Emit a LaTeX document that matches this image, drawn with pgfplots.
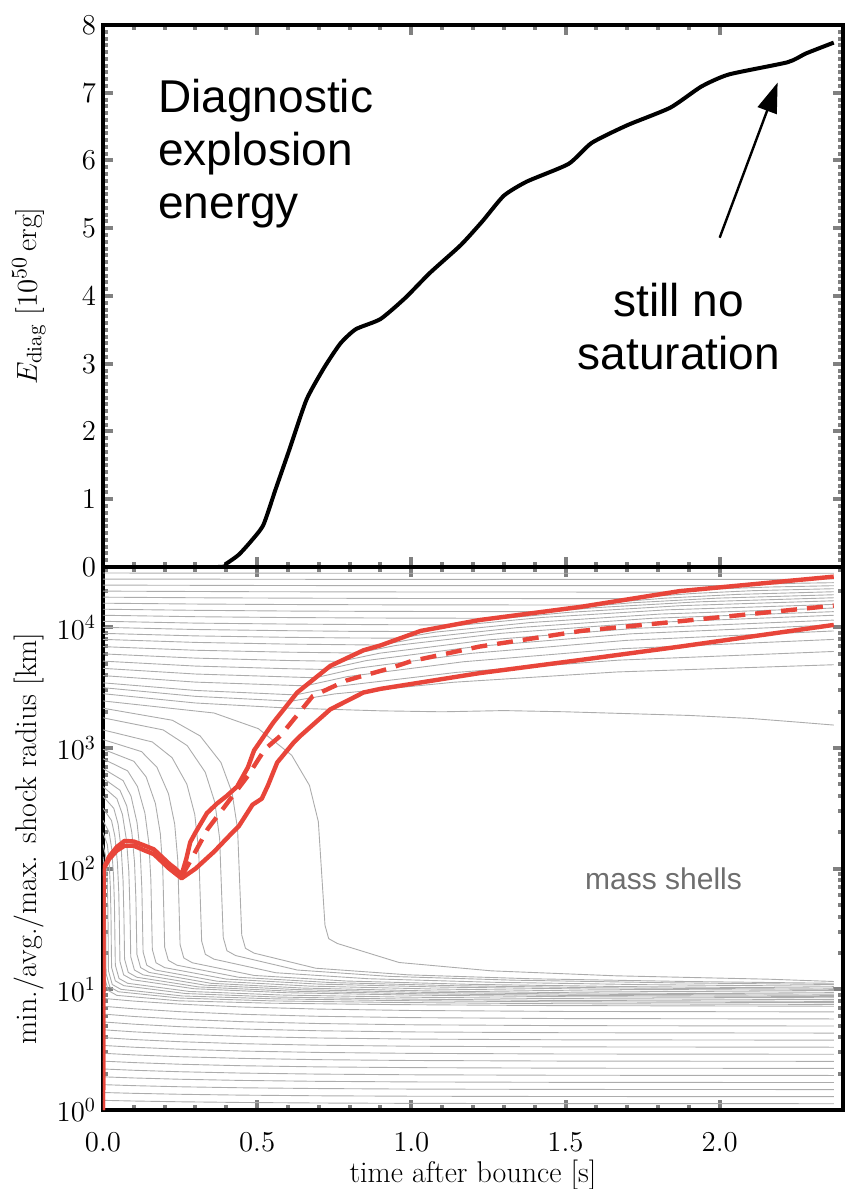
\documentclass[border=0pt]{standalone}
\usepackage{fontspec}
\usepackage{pgfplots}
\usepackage{pgfplotstable}
\pgfplotsset{compat=1.18}
\usetikzlibrary{arrows.meta}
\newfontfamily\arial{Liberation Sans}
\definecolor{shockred}{HTML}{E8453A}
\definecolor{shellgray}{RGB}{172,172,172}
\definecolor{textgray}{RGB}{110,110,110}

\pgfplotstableread{
t c1 c2 c3 c4 c5 c6 c7 c8 c9 c10 c11 c12 c13 c14
0    .080  .145  .210  .275  .340  .405  .470  .535  .600  .665  .730  .795  .860  .925
0.1  .0744 .1381 .2018 .2655 .3292 .3929 .4566 .5203 .584  .6477 .7114 .7751 .8388 .9025
0.25 .0681 .1303 .1925 .2548 .3170 .3792 .4415 .5037 .5659 .6282 .6904 .7526 .8148 .8771
0.45 .0623 .1232 .1841 .2450 .3059 .3668 .4277 .4885 .5494 .6103 .6712 .7321 .7930 .8539
0.7  .0579 .1178 .1777 .2375 .2974 .3573 .4171 .4770 .5369 .5968 .6566 .7165 .7764 .8362
1.0  .0550 .1142 .1734 .2326 .2918 .3510 .4102 .4694 .5286 .5878 .6470 .7062 .7654 .8247
1.5  .0530 .1117 .1705 .2292 .2879 .3467 .4054 .4641 .5229 .5816 .6403 .6991 .7578 .8166
2.37 .0521 .1107 .1692 .2277 .2863 .3448 .4033 .4619 .5204 .5789 .6375 .6960 .7545 .8131
}\lowshells

\pgfplotsset{
  myframe/.style={
    scale only axis, width=370pt, xmin=0, xmax=2.4,
    xtick={0,0.5,1,1.5,2}, minor x tick num=4,
    major tick length=5pt, minor tick length=2.6pt,
    xtick style={line width=2pt},
    ytick style={line width=2pt},
    axis line style={line width=2.2pt},
    tick label style={font=\fontsize{14.5}{16}\selectfont},
    label style={font=\fontsize{15}{17}\selectfont},
    scaled ticks=false,
  },
  shell/.style={shellgray, line width=0.45pt},
  shock/.style={shockred, line width=2.2pt, line join=round},
}

\begin{document}
\begin{tikzpicture}
\useasboundingbox (-51.5pt,-39.5pt) rectangle (372.5pt,555pt);

% ---------------- top panel ----------------
\begin{axis}[myframe, at={(0,271.5pt)}, anchor=south west, height=271pt,
  ymin=0, ymax=8, ytick={0,1,...,8}, minor y tick num=9,
  xticklabels={},
  ylabel={$E_{\mathrm{diag}}\ [10^{50}\,\mathrm{erg}]$},
  ylabel style={at={(axis description cs:-0.1,0.5)}, anchor=center},
]
\addplot[black, line width=2pt, smooth, tension=0.35] coordinates {
(0,0)(0.375,0)(0.40,0.05)(0.44,0.18)(0.48,0.38)(0.52,0.62)(0.56,1.15)(0.605,1.74)
(0.66,2.47)(0.717,2.94)(0.77,3.30)(0.82,3.51)(0.90,3.66)(0.98,3.97)(1.06,4.34)
(1.16,4.75)(1.23,5.10)(1.30,5.48)(1.375,5.69)(1.51,5.95)(1.585,6.26)(1.70,6.52)
(1.84,6.78)(1.94,7.09)(2.03,7.27)(2.22,7.45)(2.28,7.58)(2.37,7.74)};
\node[anchor=north west, inner sep=0pt, align=left,
  font=\arial\fontsize{23}{26.5}\selectfont] at (axis cs:0.178,7.2)
  {Diagnostic\\explosion\\energy};
\node[inner sep=0pt, align=center,
  font=\arial\fontsize{23}{26.5}\selectfont] at (axis cs:1.868,3.55)
  {still no\\saturation};
\draw[line width=1.2pt, -{Triangle[length=15pt,width=10pt]}]
  (axis cs:2.0,4.86) -- (axis cs:2.188,7.15);
\end{axis}

% ---------------- bottom panel ----------------
\begin{axis}[myframe, at={(0,0)}, anchor=south west, height=271.5pt,
  ymin=0, ymax=4.5, ytick={0,1,2,3,4},
  yticklabels={$10^{0}$,$10^{1}$,$10^{2}$,$10^{3}$,$10^{4}$},
  minor ytick={0.301,0.477,0.602,0.699,0.778,0.845,0.903,0.954,
    1.301,1.477,1.602,1.699,1.778,1.845,1.903,1.954,
    2.301,2.477,2.602,2.699,2.778,2.845,2.903,2.954,
    3.301,3.477,3.602,3.699,3.778,3.845,3.903,3.954,
    4.301,4.477},
  xticklabel style={yshift=-8pt, /pgf/number format/.cd, fixed, fixed zerofill, precision=1},
  xlabel={time after bounce [s]},
  xlabel style={at={(axis description cs:0.5,-0.12)}, anchor=center},
  ylabel={min./avg./max. shock radius [km]},
  ylabel style={at={(axis description cs:-0.1,0.5)}, anchor=center},
]
% lower (inner) mass shells
\pgfplotsinvokeforeach{1,...,14}{
  \addplot[shell] table[x=t, y=c#1] {\lowshells};
}
% collapsing mass shells (log10 radius)
\addplot[shell] coordinates {(0,2.0)(0.0025,1.9)(0.0035,1.77)(0.00425,1.55)(0.00465,1.3)(0.005,1.10)(0.017,0.99)(0.045,0.95)(0.245,0.905)(0.545,0.885)(0.945,0.8735)(1.445,0.8655)(2.37,0.86)};
\addplot[shell] coordinates {(0,2.10)(0.005,2.0)(0.007,1.87)(0.0085,1.65)(0.0093,1.40)(0.010,1.13)(0.022,1.02)(0.05,0.98)(0.25,0.9275)(0.55,0.904)(0.95,0.891)(1.45,0.881)(2.37,0.875)};
\addplot[shell] coordinates {(0,2.20)(0.009,2.10)(0.0126,1.97)(0.0153,1.75)(0.0167,1.50)(0.0175,1.20)(0.018,1.15)(0.030,1.04)(0.058,1.00)(0.258,0.945)(0.558,0.921)(0.958,0.9065)(1.458,0.8966)(2.37,0.89)};
\addplot[shell] coordinates {(0,2.30)(0.014,2.20)(0.0196,2.07)(0.0238,1.85)(0.026,1.60)(0.0272,1.30)(0.028,1.18)(0.040,1.07)(0.068,1.03)(0.268,0.965)(0.568,0.936)(0.968,0.9195)(1.468,0.9078)(2.37,0.90)};
\addplot[shell] coordinates {(0,2.40)(0.020,2.30)(0.028,2.17)(0.034,1.95)(0.0372,1.70)(0.0388,1.40)(0.040,1.20)(0.052,1.09)(0.080,1.05)(0.280,0.9825)(0.580,0.9528)(0.980,0.9353)(1.480,0.9231)(2.37,0.915)};
\addplot[shell] coordinates {(0,2.50)(0.0275,2.40)(0.0385,2.27)(0.0468,2.05)(0.0512,1.80)(0.0534,1.50)(0.055,1.23)(0.067,1.12)(0.095,1.08)(0.295,1.005)(0.595,0.972)(0.995,0.9525)(1.495,0.939)(2.37,0.93)};
\addplot[shell] coordinates {(0,2.60)(0.035,2.50)(0.049,2.37)(0.0595,2.15)(0.0651,1.90)(0.0679,1.60)(0.070,1.25)(0.082,1.14)(0.110,1.10)(0.310,1.02)(0.610,0.9848)(1.010,0.964)(1.510,0.9496)(2.37,0.94)};
\addplot[shell] coordinates {(0,2.68)(0.045,2.58)(0.063,2.45)(0.0765,2.23)(0.0837,1.98)(0.0873,1.68)(0.090,1.27)(0.102,1.16)(0.130,1.12)(0.330,1.035)(0.630,0.9976)(1.030,0.9755)(1.530,0.9602)(2.37,0.95)};
\addplot[shell] coordinates {(0,2.75)(0.055,2.65)(0.077,2.52)(0.0935,2.30)(0.1023,2.05)(0.1067,1.75)(0.110,1.29)(0.122,1.18)(0.150,1.14)(0.350,1.05)(0.650,1.0104)(1.050,0.987)(1.550,0.9708)(2.37,0.96)};
\addplot[shell] coordinates {(0,2.83)(0.065,2.73)(0.091,2.60)(0.1105,2.38)(0.1209,2.13)(0.1261,1.83)(0.130,1.31)(0.142,1.20)(0.170,1.16)(0.370,1.0675)(0.670,1.0268)(1.070,1.0028)(1.570,0.9861)(2.37,0.975)};
\addplot[shell] coordinates {(0,2.91)(0.080,2.81)(0.112,2.68)(0.136,2.46)(0.1488,2.21)(0.1552,1.91)(0.160,1.33)(0.172,1.22)(0.200,1.18)(0.400,1.085)(0.700,1.0432)(1.100,1.0185)(1.600,1.0014)(2.37,0.99)};
\addplot[shell] coordinates {(0,2.99)(0.100,2.89)(0.140,2.76)(0.170,2.54)(0.186,2.29)(0.194,1.99)(0.200,1.35)(0.212,1.24)(0.240,1.20)(0.440,1.10)(0.740,1.056)(1.140,1.03)(1.640,1.012)(2.37,1.00)};
\addplot[shell] coordinates {(0,3.07)(0.125,2.97)(0.175,2.84)(0.2125,2.62)(0.2325,2.37)(0.2425,2.07)(0.250,1.37)(0.262,1.26)(0.290,1.22)(0.490,1.115)(0.790,1.0688)(1.190,1.0415)(1.690,1.0226)(2.37,1.01)};
\addplot[shell] coordinates {(0,3.15)(0.160,3.05)(0.224,2.92)(0.272,2.70)(0.2976,2.45)(0.3104,2.15)(0.320,1.40)(0.332,1.29)(0.360,1.25)(0.560,1.1375)(0.860,1.088)(1.260,1.0588)(1.760,1.0385)(2.37,1.025)};
\addplot[shell] coordinates {(0,3.25)(0.195,3.15)(0.273,3.02)(0.3315,2.80)(0.3627,2.55)(0.3783,2.25)(0.390,1.43)(0.402,1.32)(0.430,1.28)(0.630,1.16)(0.930,1.1072)(1.330,1.076)(1.830,1.0544)(2.37,1.04)};
\addplot[shell] coordinates {(0,3.33)(0.225,3.23)(0.315,3.10)(0.3825,2.88)(0.4185,2.63)(0.4365,2.33)(0.450,1.45)(0.462,1.34)(0.490,1.30)(0.690,1.175)(0.990,1.12)(1.390,1.0875)(1.890,1.065)(2.37,1.05)};
\addplot[shell] coordinates {(0,3.39)(0.36,3.29)(0.504,3.16)(0.612,2.94)(0.6696,2.69)(0.6984,2.39)(0.720,1.53)(0.732,1.42)(0.760,1.38)(0.960,1.2225)(1.260,1.1532)(1.660,1.1123)(2.160,1.0839)(2.37,1.065)};
% outer mass shells
\addplot[shell] coordinates {(0,4.45)(1.0,4.448)(2.37,4.448)};
\addplot[shell] coordinates {(0,4.40)(1.0,4.397)(2.27,4.397)(2.37,4.402)};
\addplot[shell] coordinates {(0,4.35)(0.5,4.347)(1.0,4.345)(2.06,4.345)(2.085,4.35)(2.153,4.358)(2.246,4.365)(2.37,4.37)};
\addplot[shell] coordinates {(0,4.30)(0.5,4.295)(1.0,4.293)(1.85,4.292)(1.892,4.303)(2.006,4.32)(2.162,4.334)(2.37,4.345)};
\addplot[shell] coordinates {(0,4.25)(0.3,4.245)(0.6,4.242)(1.0,4.239)(1.72,4.238)(1.772,4.254)(1.915,4.281)(2.11,4.304)(2.37,4.32)};
\addplot[shell] coordinates {(0,4.20)(0.3,4.193)(0.6,4.189)(1.0,4.186)(1.59,4.185)(1.652,4.207)(1.824,4.242)(2.058,4.273)(2.37,4.295)};
\addplot[shell] coordinates {(0,4.15)(0.3,4.141)(0.6,4.135)(0.9,4.132)(1.43,4.13)(1.505,4.158)(1.712,4.203)(1.994,4.242)(2.37,4.27)};
\addplot[shell] coordinates {(0,4.10)(0.3,4.088)(0.6,4.081)(0.9,4.077)(1.265,4.075)(1.353,4.109)(1.597,4.163)(1.928,4.211)(2.37,4.245)};
\addplot[shell] coordinates {(0,4.05)(0.3,4.035)(0.6,4.027)(0.9,4.022)(1.14,4.02)(1.238,4.06)(1.509,4.124)(1.878,4.18)(2.37,4.22)};
\addplot[shell] coordinates {(0,4.00)(0.3,3.982)(0.6,3.972)(0.8,3.967)(1.02,3.965)(1.128,4.01)(1.425,4.082)(1.83,4.145)(2.37,4.19)};
\addplot[shell] coordinates {(0,3.95)(0.3,3.929)(0.6,3.917)(0.8,3.912)(0.965,3.91)(1.077,3.96)(1.387,4.04)(1.808,4.11)(2.37,4.16)};
\addplot[shell] coordinates {(0,3.90)(0.3,3.875)(0.6,3.861)(0.9,3.853)(1.018,3.908)(1.341,3.997)(1.782,4.075)(2.37,4.13)};
\addplot[shell] coordinates {(0,3.84)(0.3,3.81)(0.6,3.794)(0.826,3.787)(0.95,3.85)(1.289,3.95)(1.752,4.037)(2.37,4.10)};
\addplot[shell] coordinates {(0,3.78)(0.3,3.745)(0.6,3.725)(0.77,3.718)(0.898,3.786)(1.25,3.896)(1.73,3.992)(2.37,4.06)};
\addplot[shell] coordinates {(0,3.72)(0.3,3.679)(0.6,3.657)(0.723,3.651)(0.855,3.725)(1.217,3.843)(1.711,3.946)(2.37,4.02)};
\addplot[shell] coordinates {(0,3.66)(0.3,3.613)(0.689,3.582)(0.823,3.66)(1.193,3.784)(1.698,3.892)(2.37,3.97)};
\addplot[shell] coordinates {(0,3.60)(0.3,3.546)(0.656,3.515)(0.793,3.592)(1.17,3.715)(1.684,3.823)(2.37,3.90)};
\addplot[shell] coordinates {(0,3.54)(0.3,3.477)(0.624,3.44)(0.764,3.512)(1.148,3.627)(1.672,3.728)(2.37,3.80)};
\addplot[shell] coordinates {(0,3.50)(0.3,3.428)(0.61,3.388)(0.751,3.448)(1.138,3.545)(1.666,3.63)(2.37,3.69)};
\addplot[shell] coordinates {(0,3.45)(0.3,3.373)(0.6,3.331)(0.9,3.308)(1.1,3.30)(1.3,3.31)(1.5,3.30)(1.7,3.285)(1.9,3.27)(2.1,3.245)(2.25,3.215)(2.37,3.19)};

% shock radii (log10 km)
\addplot[shock] coordinates {(0,0)(0.002,2.0)(0.02,2.10)(0.045,2.18)(0.07,2.23)(0.10,2.225)(0.136,2.19)(0.165,2.16)(0.19,2.10)(0.215,2.04)(0.235,2.0)(0.255,1.95)(0.27,2.08)(0.283,2.22)(0.30,2.30)(0.337,2.46)(0.37,2.54)(0.40,2.60)(0.435,2.68)(0.47,2.84)(0.49,2.98)(0.552,3.21)(0.63,3.46)(0.737,3.68)(0.845,3.81)(0.9,3.85)(1.03,3.97)(1.22,4.06)(1.55,4.17)(1.87,4.30)(2.37,4.42)};
\addplot[shock] coordinates {(0,0)(0.002,2.0)(0.02,2.08)(0.045,2.15)(0.07,2.19)(0.10,2.19)(0.136,2.15)(0.165,2.12)(0.19,2.06)(0.215,2.00)(0.235,1.96)(0.255,1.92)(0.30,2.0)(0.36,2.14)(0.42,2.30)(0.44,2.35)(0.485,2.53)(0.515,2.58)(0.535,2.69)(0.565,2.88)(0.62,3.05)(0.64,3.10)(0.737,3.32)(0.845,3.46)(0.9,3.49)(1.22,3.62)(1.55,3.73)(1.87,3.84)(2.37,4.02)};
\addplot[shock, dash pattern=on 8pt off 5pt] coordinates {(0.255,1.94)(0.276,2.03)(0.34,2.33)(0.405,2.55)(0.47,2.77)(0.525,2.99)(0.575,3.10)(0.68,3.43)(0.79,3.56)(0.93,3.66)(1.0,3.72)(1.22,3.84)(1.55,3.97)(1.87,4.05)(2.37,4.18)};

\node[text=textgray, font=\arial\fontsize{15}{17}\selectfont] at (axis cs:1.818,1.918) {mass shells};
\end{axis}
\end{tikzpicture}
\end{document}
